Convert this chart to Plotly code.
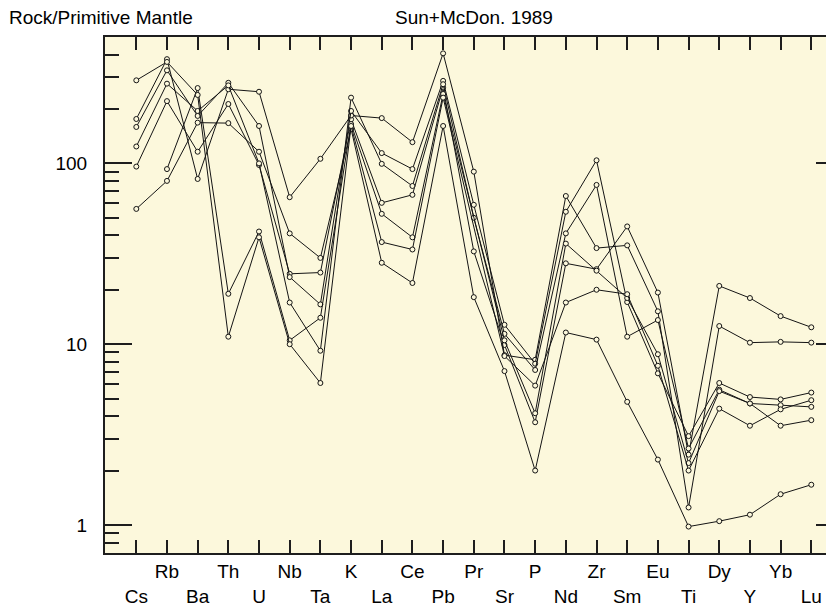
import numpy as np
import plotly.graph_objects as go

elements = ["Cs", "Rb", "Ba", "Th", "U", "Nb", "Ta", "K", "La", "Ce", "Pb", "Pr",
            "Sr", "P", "Nd", "Zr", "Sm", "Eu", "Ti", "Dy", "Y", "Yb", "Lu"]

s1 = [56, 80, 168, 167, 116, 41, 30, 155, 28.2, 21.8, 161, 18.2, 7.1, 2.0, 11.6, 10.6, 4.8, 2.3, 0.98, 1.05, 1.14, 1.48, 1.67]
s2 = [96, 221, 116, 213, 98, 24.5, 24.9, 175, 60.5, 67, 263, 32.6, 9.9, 3.7, 28, 26, 44.8, 19.3, 2.45, 21, 18, 14.3, 12.4]
s3 = [176, 377, 82, 257, 249, 65, 106, 184, 178, 131, 406, 90, 8.7, 8.2, 66, 34, 35.2, 15.2, 1.25, 12.6, 10.2, 10.3, 10.2]
s4 = [159, 327, 183, 279, 161, 23.5, 16.6, 195, 114, 93, 286, 59, 12.8, 7.8, 54, 104, 17.1, 6.9, 3.1, 6.1, 5.1, 4.95, 5.4]
s5 = [124, 276, 195, 270, 100, 17, 9.2, 231, 99.4, 75, 274, 50, 11.4, 7.2, 41, 76, 11, 13.6, 2.65, 5.6, 4.7, 4.6, 4.5]
s6 = [None, 93, 261, 19, 42, 10.5, 14, 165, 52.6, 39, 242, None, 10.5, 4.15, 36, 25.5, 18, 8.8, 2.2, 5.5, 4.7, 3.54, 3.8]
s7 = [288, 364, 239, 11, 39, 10, 6.1, 161, 36.7, 33.4, 231, None, 8.6, 5.9, 17, 20, 18.9, 7.6, 2.0, 4.4, 3.54, 4.36, 4.9]
samples = [s1, s2, s3, s4, s5, s6, s7]

y_major = [1, 10, 100]
y_major_text = ["1", "10", "100"]
y_minor = [0.7, 0.8, 0.9, 2, 3, 4, 5, 6, 7, 8, 9, 20, 30, 40, 50, 60, 70, 80, 90, 200, 300, 400]

BG = "#FCF8DC"
FR = "#1e1e1e"
LC = "#141414"
FONT = "Liberation Sans, Arial, sans-serif"

xpos = list(range(len(elements)))
# alternate two rows of labels
xlabels = [("<br>" + e) if i % 2 == 0 else e for i, e in enumerate(elements)]

yr = [np.log10(0.7), np.log10(500)]

fig = go.Figure()
for s in samples:
    fig.add_trace(go.Scatter(
        x=xpos, y=s, mode="lines+markers", connectgaps=True,
        line=dict(color=LC, width=1),
        marker=dict(symbol="circle", size=5, color=BG, line=dict(color=LC, width=1)),
        showlegend=False, hoverinfo="skip"))

# invisible trace to host the right-hand tick axis
fig.add_trace(go.Scatter(x=[None], y=[None], yaxis="y2", showlegend=False, hoverinfo="skip"))

# the page body adds an 8px offset, so the figure is 8px smaller and margins reduced
fig.update_layout(
    width=826, height=600,
    margin=dict(l=97, r=0, t=29, b=55, autoexpand=False),
    paper_bgcolor="white", plot_bgcolor=BG,
    font=dict(family=FONT, size=19, color="black"),
    xaxis=dict(range=[-1.02, 22.74], tickmode="array", tickvals=xpos, ticktext=xlabels,
               ticks="inside", ticklen=13, tickwidth=2, tickcolor=FR,
               showline=True, linewidth=2, linecolor=FR, mirror="ticks",
               showgrid=False, zeroline=False, ticklabelstandoff=0, automargin=False,
               tickfont=dict(family=FONT, size=19, color="black")),
    yaxis=dict(type="log", range=yr, tickmode="array", tickvals=y_major, ticktext=y_major_text,
               ticks="inside", ticklen=27, tickwidth=2, tickcolor=FR,
               showline=True, linewidth=2, linecolor=FR, mirror=False,
               showgrid=False, zeroline=False, ticklabelstandoff=12, automargin=False,
               tickfont=dict(family=FONT, size=19, color="black"),
               minor=dict(tickmode="array", tickvals=y_minor, ticks="inside", ticklen=14,
                          tickwidth=2, tickcolor=FR, showgrid=False)),
    yaxis2=dict(type="log", range=yr, overlaying="y", side="right", anchor="x",
                tickmode="array", tickvals=y_major, showticklabels=False,
                ticks="inside", ticklen=18, tickwidth=2, tickcolor=FR,
                showline=False, showgrid=False, zeroline=False, automargin=False,
                minor=dict(tickmode="array", tickvals=y_minor, ticks="inside", ticklen=6,
                           tickwidth=2, tickcolor=FR, showgrid=False)),
    annotations=[
        dict(text="Rock/Primitive Mantle", xref="paper", yref="paper",
             x=(8 - 105) / 729, y=1 + (37 - 18) / 516, xanchor="left", yanchor="middle",
             borderpad=0, showarrow=False, font=dict(family=FONT, size=19, color="black")),
        dict(text="Sun+McDon. 1989", xref="paper", yref="paper",
             x=(474 - 105) / 729, y=1 + (37 - 18) / 516, xanchor="center", yanchor="middle",
             borderpad=0, showarrow=False, font=dict(family=FONT, size=19, color="black")),
    ],
)

fig.write_html("out.html")
